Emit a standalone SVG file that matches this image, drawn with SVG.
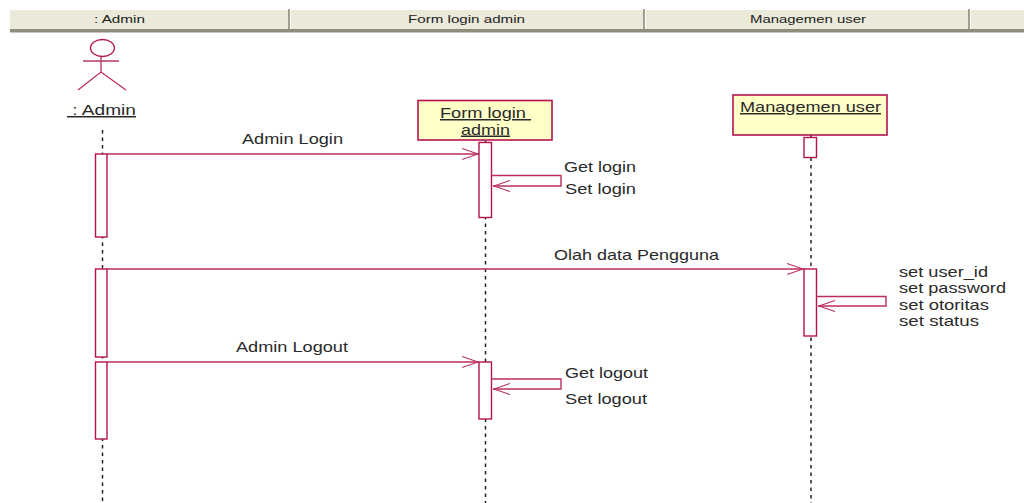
<svg xmlns="http://www.w3.org/2000/svg" width="1024" height="503" viewBox="0 0 1024 503">
<style>
text{font-family:"Liberation Sans",Arial,sans-serif;fill:#2a2a2a;font-size:15px}
.h{font-size:10.500px;fill:#222}
.l{fill:none;stroke:#222;stroke-width:1.500;stroke-dasharray:3.500 4}
.a{fill:#fff;stroke:#b5134f;stroke-width:1.400}
.b{fill:#ffffc8;stroke:#b5134f;stroke-width:1.600}
.m{fill:none;stroke:#bd2e60;stroke-width:1.400}
.u{text-decoration:underline}
</style>
<defs>
<marker id="o" markerUnits="userSpaceOnUse" markerWidth="20" markerHeight="14" refX="17" refY="6" orient="auto"><path d="M0 0.500L16 6L0 11.500" fill="none" stroke="#bd2e60" stroke-width="1.100"/></marker>
</defs>
<g id="header">
<rect x="10" y="10" width="1014" height="19" fill="#ebe9d9"/>
<rect x="10" y="29" width="1014" height="3.500" fill="#8d8d7c"/>
<path d="M289 9V29M644 9V29M969 9V29" stroke="#8d8d7c" stroke-width="1.600"/>
<path d="M290.500 10V29M645.500 10V29M970.500 10V29" stroke="#fff" stroke-width="1"/>
<text class="h" x="94" y="23" textLength="51" lengthAdjust="spacingAndGlyphs">: Admin</text>
<text class="h" x="408" y="23" textLength="117" lengthAdjust="spacingAndGlyphs">Form login admin</text>
<text class="h" x="750" y="23" textLength="116" lengthAdjust="spacingAndGlyphs">Managemen user</text>
</g>
<g id="lifelines">
<path class="l" d="M102.500 130V503M485.500 141V503M811 135V503"/>
</g>
<g id="node-admin">
<ellipse cx="102.500" cy="48" rx="12" ry="8.500" fill="none" stroke="#b5134f" stroke-width="1.300"/>
<path d="M83 61H119" stroke="#c96a8b" stroke-width="1.800" fill="none"/>
<path d="M101 57V72M78 90L101 72L126 90" stroke="#bd2e60" stroke-width="1.300" fill="none"/>
<text class="u" x="67" y="115" textLength="69" lengthAdjust="spacingAndGlyphs" xml:space="preserve"> : Admin</text>
</g>
<g id="node-form-login">
<rect class="b" x="418" y="100.500" width="134" height="39.500"/>
<text class="u" x="440" y="118" textLength="91" lengthAdjust="spacingAndGlyphs" xml:space="preserve">Form login </text>
<text class="u" x="461" y="134.500" textLength="49" lengthAdjust="spacingAndGlyphs">admin</text>
</g>
<g id="node-managemen-user">
<rect class="b" x="733" y="95" width="154" height="40"/>
<text class="u" x="740" y="112" textLength="141" lengthAdjust="spacingAndGlyphs">Managemen user</text>
</g>
<g id="activations">
<rect class="a" x="95.500" y="154" width="11.500" height="83"/>
<rect class="a" x="95.500" y="269" width="11.500" height="88"/>
<rect class="a" x="95.500" y="362" width="11.500" height="77"/>
<rect class="a" x="479" y="142.500" width="12.500" height="75"/>
<rect class="a" x="479" y="362" width="12.500" height="57"/>
<rect class="a" x="804" y="137.500" width="12.500" height="20"/>
<rect class="a" x="804" y="269" width="12.500" height="67"/>
</g>
<g id="connectors">
<path class="m" marker-end="url(#o)" d="M107 154H479"/>
<path class="m" marker-end="url(#o)" d="M107 269H804"/>
<path class="m" marker-end="url(#o)" d="M107 362H479"/>
<path class="m" marker-end="url(#o)" d="M491.500 175.500H561V186H493"/>
<path class="m" marker-end="url(#o)" d="M491.500 379H561V389H493"/>
<path class="m" marker-end="url(#o)" d="M816.500 296.500H886V306H818"/>
</g>
<g id="labels">
<text x="242" y="144" textLength="101" lengthAdjust="spacingAndGlyphs">Admin Login</text>
<text x="564" y="172" textLength="72" lengthAdjust="spacingAndGlyphs">Get login</text>
<text x="565" y="194" textLength="71" lengthAdjust="spacingAndGlyphs">Set login</text>
<text x="554" y="260" textLength="165" lengthAdjust="spacingAndGlyphs">Olah data Pengguna</text>
<text x="236" y="352" textLength="112" lengthAdjust="spacingAndGlyphs">Admin Logout</text>
<text x="565" y="378" textLength="83" lengthAdjust="spacingAndGlyphs">Get logout</text>
<text x="565" y="404" textLength="82" lengthAdjust="spacingAndGlyphs">Set logout</text>
<text x="899" y="277" textLength="89" lengthAdjust="spacingAndGlyphs">set user_id</text>
<text x="899" y="293" textLength="107" lengthAdjust="spacingAndGlyphs">set password</text>
<text x="899" y="310" textLength="90" lengthAdjust="spacingAndGlyphs">set otoritas</text>
<text x="899" y="326" textLength="80" lengthAdjust="spacingAndGlyphs">set status</text>
</g>
</svg>
